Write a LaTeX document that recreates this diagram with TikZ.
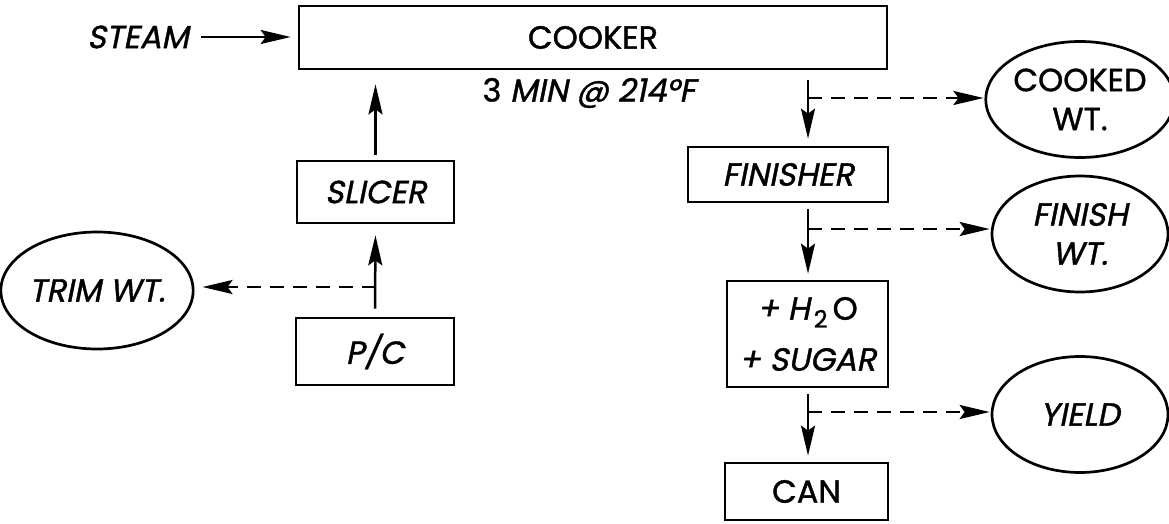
\documentclass[tikz,border=0pt]{standalone}
\usepackage{fontspec}
\setmainfont{Poppins}[FakeBold=1.2]
\newfontfamily\ufont{Poppins}[FakeBold=1.2]
\newfontfamily\ifont{Poppins}[FakeSlant=0.2,FakeBold=1.2]
\usetikzlibrary{arrows.meta,shapes.geometric}
\newcommand\fsz{\fontsize{32}{39}\selectfont}
\begin{document}
\begin{tikzpicture}[x=1pt,y=-1pt,
  box/.style={draw, line width=2.7pt, rectangle, inner sep=0pt, align=center, font=\fsz\ifont},
  bubble/.style={draw, ellipse, line width=2.7pt, inner sep=0pt, align=center, font=\fsz\ifont,
    minimum width=176pt, minimum height=116pt},
  flow/.style={line width=2.5pt, -{Stealth[length=30pt,width=14pt,inset=5pt]}},
  tap/.style={flow, dash pattern=on 14pt off 9pt}]
\useasboundingbox (0,0) rectangle (1169,524);
\fill[white] (0,0) rectangle (1169,524);

\node[box, minimum width=588pt, minimum height=63pt, font=\fsz\ufont] (cooker) at (593,37.5) {COOKER};
\node[font=\fsz\ifont, inner sep=0pt] (steam) at (138,37) {STEAM};
\node[font=\fsz, inner sep=0pt] (info) at (589,93) {{\ufont 3} {\ifont MIN @ 214°F}};
\node[box, minimum width=157pt, minimum height=62pt] (slicer) at (375.5,192) {SLICER};
\node[box, minimum width=158pt, minimum height=67pt] (pc) at (375,351.5) {P/C};
\node[bubble, minimum width=180pt, minimum height=117pt] (trim) at (97,290.5) {TRIM WT.};
\node[box, minimum width=200pt, minimum height=55pt] (finisher) at (788,174.5) {FINISHER};
\node[box, minimum width=161pt, minimum height=106pt] (water) at (807.5,334)
  {{\ifont + H}\kern4pt\raisebox{-8pt}{\fontsize{24}{24}\selectfont\ufont 2}\kern5pt{\ufont O}\\[12pt]+ SUGAR};
\node[box, minimum width=163pt, minimum height=57pt, font=\fsz\ufont] (can) at (806.5,491.5) {CAN};
\node[bubble, font=\fsz\ufont] (cooked) at (1080,99.5) {COOKED\\WT.};
\node[bubble] (finishwt) at (1080,234) {FINISH\\WT.};
\node[bubble] (yield) at (1080,414.5) {YIELD};

\coordinate (spine) at (808,0);
\coordinate (t1) at (376,287);
\coordinate (b1) at (808,98);
\coordinate (b2) at (808,229);
\coordinate (b3) at (808,412);

\draw[flow, shorten <=12pt, shorten >=7pt] (steam.east) -- (cooker.west |- steam.east);
\draw[flow, shorten <=5pt, shorten >=14pt] (slicer.north) -- (slicer.north |- cooker.south);
\draw[flow, shorten <=8pt, shorten >=11pt] (pc.north) -- (slicer.south);
\draw[tap, shorten >=8pt] (t1) -- (trim.east |- t1);

\draw[flow, shorten <=10pt, shorten >=7pt] (cooker.south -| spine) -- (finisher.north -| spine);
\draw[flow, shorten <=6pt, shorten >=6pt] (finisher.south -| spine) -- (water.north -| spine);
\draw[flow, shorten <=6pt, shorten >=6pt] (water.south -| spine) -- (can.north -| spine);

\draw[tap, shorten >=1pt] (b1) -- (cooked.west |- b1);
\draw[tap, shorten >=1pt] (b2) -- (finishwt.west |- b2);
\draw[tap, shorten >=1pt] (b3) -- (yield.west |- b3);
\end{tikzpicture}
\end{document}
